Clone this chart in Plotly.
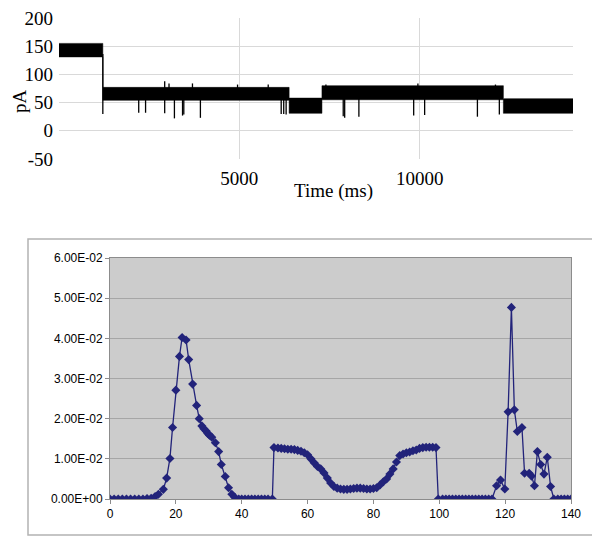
import plotly.graph_objects as go

# --- top panel: single-channel current trace ---
# levels: start/end time (ms), upper and lower edge of the noise band (pA)
seg_start = [0, 1215, 6380, 7290, 12320]
seg_end = [1215, 6380, 7290, 12320, 14250]
seg_hi = [155, 77, 58, 80, 57]
seg_lo = [131, 54, 31, 55, 31]

# brief closures (downward spikes): time (ms), minimum (pA)
spike_t = [1215, 2210, 2400, 2930, 3200, 3425, 3460, 3920, 6160, 6230, 6297,
           7880, 7920, 8314, 9833, 10137, 11600, 12208]
spike_lo = [30, 32, 32, 31, 22, 27, 29, 23, 30, 30, 29,
            26, 23, 25, 27, 28, 25, 29]
# short upward excursions: time (ms), maximum (pA)
up_t = [2930, 3050, 3700, 4950, 5800, 7400, 9950, 12100]
up_hi = [88, 84, 84, 82, 82, 82, 84, 82]

top_yticks = [200, 150, 100, 50, 0, -50]
top_yticktext = ["200", "150", "100", "50", "0", "-50"]
top_xticks = [5000, 10000]
top_xticktext = ["5000", "10000"]

# --- bottom panel: distribution ---
dist_x = [0, 1.25, 2.5, 3.75, 5, 6.25, 7.5, 8.75, 10, 11.25, 12.5, 13.7, 14.7,
          16.2, 17.2, 18.2, 19.0, 20.0, 21.1, 21.9, 23.1, 23.9, 25.1, 26.3,
          27.1, 27.9, 28.5, 29.2, 29.7, 30.2, 30.9, 32.0, 33.0, 33.8, 35.0,
          36.0, 37.0, 37.9, 39.1, 40, 41, 42, 43, 44, 45, 46, 47, 48, 49.3,
          49.8, 51, 52, 53, 54, 55, 56, 57, 58, 59, 60, 61, 62, 63, 64, 65,
          66, 67, 68, 69, 70, 71, 72, 73, 74, 75, 76, 77, 78, 79, 80, 81, 82,
          83, 84, 85, 86, 87, 88, 89, 90, 91, 92, 93, 94, 95, 96, 97, 98, 99,
          99.7, 101, 102, 103, 104, 105, 106, 107, 108, 109, 110, 111, 112,
          113, 114, 115, 116, 117.4, 118.6, 119.9, 120.9, 121.9, 122.8, 123.7,
          125.1, 125.9, 127.3, 128.0, 128.9, 129.8, 130.8, 131.8, 132.8,
          133.8, 134.8, 136, 137, 138, 139, 140]
dist_y = [0, 0, 0, 0, 0, 0, 0, 0, 0, 0.0001, 0.0002, 0.0006, 0.0012,
          0.0024, 0.0052, 0.0101, 0.0178, 0.0271, 0.0355, 0.0402, 0.0396,
          0.0347, 0.0286, 0.0233, 0.0200, 0.0182, 0.0175, 0.0169, 0.0163,
          0.0159, 0.0154, 0.0140, 0.0118, 0.0086, 0.0056, 0.0028, 0.0012,
          0.0004, 0, 0, 0, 0, 0, 0, 0, 0, 0, 0, 0,
          0.0128, 0.0127, 0.0126, 0.0125, 0.0124, 0.0124, 0.0123, 0.0121,
          0.0119, 0.0115, 0.0110, 0.0100, 0.0090, 0.0081, 0.0075, 0.0065,
          0.0052, 0.0040, 0.0031, 0.0027, 0.0025, 0.0024, 0.0024, 0.0025,
          0.0026, 0.0027, 0.0027, 0.0026, 0.0025, 0.0025, 0.0026, 0.0028,
          0.0035, 0.0043, 0.0050, 0.0062, 0.0075, 0.0092, 0.0108, 0.0112,
          0.0115, 0.0117, 0.0120, 0.0122, 0.0126, 0.0128, 0.0129, 0.0129,
          0.0129, 0.0128,
          0, 0, 0, 0, 0, 0, 0, 0, 0, 0, 0, 0, 0, 0, 0, 0, 0,
          0.0033, 0.0047, 0.0025, 0.0217, 0.0477, 0.0222, 0.0168, 0.0178,
          0.0064, 0.0064, 0.0057, 0.0033, 0.0118, 0.0086, 0.0062, 0.0104,
          0.0031, 0, 0, 0, 0, 0, 0]
dist_yticks = [0, 0.01, 0.02, 0.03, 0.04, 0.05, 0.06]
dist_yticktext = ["0.00E+00", "1.00E-02", "2.00E-02", "3.00E-02",
                  "4.00E-02", "5.00E-02", "6.00E-02"]
dist_xticks = [0, 20, 40, 60, 80, 100, 120, 140]

W, H = 600, 544
OFF = 8  # page body margin shifts the figure by this much


def px(p):
    return (p - OFF) / W


def py(p):
    return 1 - (p - OFF) / H


fig = go.Figure()

# noise band as steps
band_x, band_hi, band_lo = [], [], []
for s, e, h, l in zip(seg_start, seg_end, seg_hi, seg_lo):
    band_x += [s, e]
    band_hi += [h, h]
    band_lo += [l, l]
fig.add_trace(go.Scatter(x=band_x, y=band_lo, mode="lines",
                         line=dict(color="black", width=0.5),
                         xaxis="x", yaxis="y", hoverinfo="skip"))
fig.add_trace(go.Scatter(x=band_x, y=band_hi, mode="lines", fill="tonexty",
                         fillcolor="black", line=dict(color="black", width=0.5),
                         xaxis="x", yaxis="y", hoverinfo="skip"))


def level_at(t):
    for s, e, h, l in zip(seg_start, seg_end, seg_hi, seg_lo):
        if s <= t <= e:
            return h, l
    return seg_hi[-1], seg_lo[-1]


sx, sy = [], []
for t, v in zip(spike_t, spike_lo):
    sx += [t, t, None]
    sy += [level_at(t)[1] + 5, v, None]
for t, v in zip(up_t, up_hi):
    sx += [t, t, None]
    sy += [level_at(t)[0] - 3, v, None]
fig.add_trace(go.Scatter(x=sx, y=sy, mode="lines",
                         line=dict(color="black", width=1.3),
                         xaxis="x", yaxis="y", hoverinfo="skip"))

fig.add_trace(go.Scatter(x=dist_x, y=dist_y, mode="lines+markers",
                         line=dict(color="#22237a", width=1.3),
                         marker=dict(symbol="diamond", size=7, color="#22237a"),
                         xaxis="x2", yaxis="y2"))

serif = dict(family="Liberation Serif", size=19, color="black")
sans = dict(family="Liberation Sans", size=12, color="black")

fig.update_layout(
    width=W, height=H,
    margin=dict(l=0, r=0, t=0, b=0, pad=0),
    paper_bgcolor="white",
    plot_bgcolor="white",
    showlegend=False,
    xaxis=dict(domain=[px(59), px(573)], anchor="y", range=[0, 14250],
               tickvals=top_xticks, ticktext=top_xticktext, showgrid=True,
               gridcolor="#d9d9d9", zeroline=False, showline=False, ticks="",
               tickfont=serif, ticklabelstandoff=6, automargin=False,
               ticklabeloverflow="allow"),
    yaxis=dict(domain=[py(159), py(18)], anchor="x",
               range=[-50, 200], tickvals=top_yticks, ticktext=top_yticktext,
               showgrid=True, gridcolor="#d9d9d9", zeroline=False,
               showline=False, ticks="", tickfont=serif,
               ticklabelstandoff=5, automargin=False,
               ticklabeloverflow="allow"),
    xaxis2=dict(domain=[px(110), px(571)], anchor="y2", range=[0, 140],
                tickvals=dist_xticks, showgrid=False, zeroline=False,
                showline=True, mirror=True, linecolor="#8c8c8c",
                ticks="outside", ticklen=4, tickcolor="#8c8c8c",
                tickfont=sans, automargin=False),
    yaxis2=dict(domain=[py(499), py(258)], anchor="x2",
                range=[0, 0.06], tickvals=dist_yticks,
                ticktext=dist_yticktext, showgrid=True, gridcolor="#a6a6a6",
                zeroline=False, showline=True, mirror=True,
                linecolor="#8c8c8c", ticks="outside", ticklen=4,
                tickcolor="#8c8c8c", tickfont=sans, automargin=False),
    annotations=[
        dict(text="Time (ms)", x=px(333), y=py(191), xref="paper",
             yref="paper", showarrow=False, font=serif,
             xanchor="center", yanchor="middle"),
        dict(text="pA", x=px(20), y=py(101), xref="paper",
             yref="paper", showarrow=False, textangle=-90, font=serif,
             xanchor="center", yanchor="middle"),
    ],
    shapes=[
        dict(type="rect", xref="paper", yref="paper",
             x0=px(28), x1=px(593), y0=py(535), y1=py(239),
             line=dict(color="#b3b3b3", width=1.5), layer="below"),
        dict(type="rect", xref="paper", yref="paper",
             x0=px(110), x1=px(571), y0=py(499), y1=py(258),
             fillcolor="#cccccc", line=dict(width=0), layer="below"),
    ],
)

fig.write_html("out.html")
